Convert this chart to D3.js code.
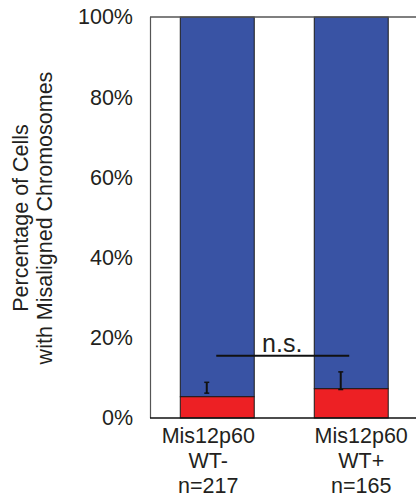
<!DOCTYPE html>
<html><head><meta charset="utf-8">
<script src="https://cdn.jsdelivr.net/npm/d3@7"></script>
<style>body{margin:0;background:#fff}svg{display:block}text{font-family:"Liberation Sans",Arial,sans-serif;fill:#231f20}</style>
</head><body>
<script>
const categories = ["WT-", "WT+"];
const labelLines = [["Mis12p60","WT-","n=217"],["Mis12p60","WT+","n=165"]];
const misaligned = [5.3, 7.3];
const aligned = [94.7, 92.7];
const errLow = [6.2, 7.1];
const errHigh = [8.9, 11.5];
const yTicks = [0, 20, 40, 60, 80, 100];
const sigValue = 15.5;
const sigText = "n.s.";

const W = 416, H = 500;
const svg = d3.select("body").append("svg").attr("width", W).attr("height", H);

const x = d3.scaleBand().domain(categories).range([150, 418.5]).paddingInner(0.448).paddingOuter(0.226);
const y = d3.scaleLinear().domain([0, 100]).range([418, 17]);

const bw = x.bandwidth();
const g = svg.append("g");
categories.forEach((c, i) => {
  g.append("rect").attr("x", x(c)).attr("width", bw)
    .attr("y", y(misaligned[i] + aligned[i])).attr("height", y(misaligned[i]) - y(misaligned[i] + aligned[i]))
    .attr("fill", "#3953a4").attr("stroke", "#1a1a1a").attr("stroke-width", 1);
  g.append("rect").attr("x", x(c)).attr("width", bw)
    .attr("y", y(misaligned[i])).attr("height", y(0) - y(misaligned[i]))
    .attr("fill", "#ed2024").attr("stroke", "#1a1a1a").attr("stroke-width", 1);
  const ex = x(c) + bw / 2 - 10.5;
  g.append("line").attr("x1", ex).attr("x2", ex).attr("y1", y(errLow[i])).attr("y2", y(errHigh[i]))
    .attr("stroke", "#111").attr("stroke-width", 2);
  [errLow[i], errHigh[i]].forEach(v => g.append("line").attr("x1", ex - 2.5).attr("x2", ex + 2.5)
    .attr("y1", y(v)).attr("y2", y(v)).attr("stroke", "#111").attr("stroke-width", 1.5));
});

svg.append("line").attr("x1", 150).attr("x2", 418).attr("y1", y(100)).attr("y2", y(100)).attr("stroke", "#555").attr("stroke-width", 1.5);
svg.append("line").attr("x1", 150.5).attr("x2", 150.5).attr("y1", y(100)).attr("y2", y(0)).attr("stroke", "#555").attr("stroke-width", 1.2);
svg.append("line").attr("x1", 150).attr("x2", 418).attr("y1", y(0)).attr("y2", y(0)).attr("stroke", "#111").attr("stroke-width", 1.5);

const yAxis = d3.axisLeft(y).tickValues(yTicks).tickFormat(d => d + "%").tickSize(0).tickPadding(17);
const ya = svg.append("g").attr("transform", "translate(150,0)").call(yAxis);
ya.select(".domain").remove();
ya.selectAll("text").style("font-size", "21.5px").attr("fill", "#231f20").attr("font-family", '"Liberation Sans",Arial,sans-serif');

const yl = svg.append("text").attr("transform", `translate(0,${218}) rotate(-90)`).attr("text-anchor", "middle").style("font-size", "21.5px");
yl.append("tspan").attr("x", 0).attr("y", 28).text("Percentage of Cells");
yl.append("tspan").attr("x", 0).attr("y", 52).text("with Misaligned Chromosomes");

const offs = [-9, 10];
categories.forEach((c, i) => {
  const cx = x(c) + bw / 2 + offs[i];
  labelLines[i].forEach((t, j) => svg.append("text").attr("x", cx).attr("y", 443 + j * 25)
    .attr("text-anchor", "middle").style("font-size", "21.5px").text(t));
});

const sx1 = x(categories[0]) + bw / 2 - 1, sx2 = x(categories[1]) + bw / 2 - 2;
svg.append("line").attr("x1", sx1).attr("x2", sx2).attr("y1", y(sigValue)).attr("y2", y(sigValue)).attr("stroke", "#111").attr("stroke-width", 2);
svg.append("text").attr("x", (x(categories[0]) + bw + x(categories[1])) / 2 - 2).attr("y", y(sigValue) - 3.5)
  .attr("text-anchor", "middle").style("font-size", "25px").text(sigText);
</script>
</body></html>
